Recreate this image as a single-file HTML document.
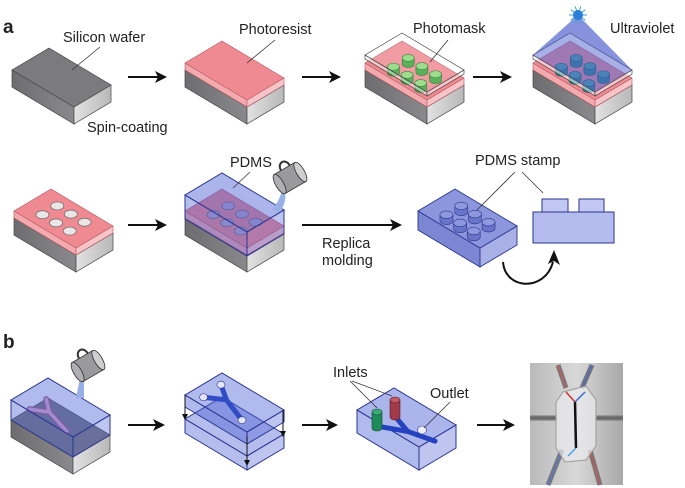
<!DOCTYPE html>
<html><head><meta charset="utf-8"><style>
html,body{margin:0;padding:0;background:#fff;}
svg{display:block;}
text{font-family:"Liberation Sans",Arial,sans-serif;fill:#222;}
</style></head><body>
<svg id="fig" width="685" height="488" viewBox="0 0 685 488" xmlns="http://www.w3.org/2000/svg">
<defs>
<linearGradient id="grayL" x1="0" y1="0" x2="1" y2="0"><stop offset="0" stop-color="#6d6d70"/><stop offset="1" stop-color="#8a8a8c"/></linearGradient>
<linearGradient id="grayR" x1="0" y1="0" x2="1" y2="0"><stop offset="0" stop-color="#e2e2e2"/><stop offset="1" stop-color="#b8b8b8"/></linearGradient>
<linearGradient id="photoBg" x1="0" y1="0" x2="1" y2="0"><stop offset="0" stop-color="#b9b9b9"/><stop offset="0.5" stop-color="#d8d8d8"/><stop offset="1" stop-color="#a8a8a8"/></linearGradient>
</defs>
<g id="root"></g>
</svg>
<script>
var NS='http://www.w3.org/2000/svg';
var root=document.getElementById('root');
var L=[-62,-37], R=[37,-22];
function el(tag,attrs,parent){var e=document.createElementNS(NS,tag);for(var k in attrs)e.setAttribute(k,attrs[k]);(parent||root).appendChild(e);return e;}
function pts(a){return a.map(function(p){return p[0].toFixed(1)+','+p[1].toFixed(1)}).join(' ');}
function grp(name){var g=el('g',{});


return g;}
function box(g,fx,fy,h,top,left,right,stroke,sw){
  var F=[fx,fy],Lp=[fx+L[0],fy+L[1]],Rp=[fx+R[0],fy+R[1]],B=[fx+L[0]+R[0],fy+L[1]+R[1]];
  el('polygon',{points:pts([F,Lp,[Lp[0],Lp[1]+h],[fx,fy+h]]),fill:left,stroke:stroke,'stroke-width':sw||0.8},g);
  el('polygon',{points:pts([F,Rp,[Rp[0],Rp[1]+h],[fx,fy+h]]),fill:right,stroke:stroke,'stroke-width':sw||0.8},g);
  el('polygon',{points:pts([F,Lp,B,Rp]),fill:top,stroke:stroke,'stroke-width':sw||0.8},g);
}
function onTop(fx,fy,u,v){return [fx+u*L[0]+v*R[0],fy+u*L[1]+v*R[1]];}
function cyl(g,c,rx,ry,h,side,topc,stroke){
  el('path',{d:'M'+(c[0]-rx)+','+c[1]+' L'+(c[0]-rx)+','+(c[1]+h)+' A'+rx+','+ry+' 0 0 0 '+(c[0]+rx)+','+(c[1]+h)+' L'+(c[0]+rx)+','+c[1]+' Z',fill:side,stroke:stroke,'stroke-width':0.6},g);
  el('ellipse',{cx:c[0],cy:c[1],rx:rx,ry:ry,fill:topc,stroke:stroke,'stroke-width':0.6},g);
}
function arrow(x1,y,x2,name){var g=grp(name);
  el('line',{x1:x1,y1:y,x2:x2-8,y2:y,stroke:'#111','stroke-width':2},g);
  el('polygon',{points:pts([[x2,y],[x2-12,y-6],[x2-9,y],[x2-12,y+6]]),fill:'#111'},g);}
function label(x,y,s,name,size,weight){var t=el('text',{x:x,y:y,'font-size':size||14.5,'font-weight':weight||'normal'});t.textContent=s;


return t;}
function leader(x1,y1,x2,y2,name){var l=el('line',{x1:x1,y1:y1,x2:x2,y2:y2,stroke:'#333','stroke-width':0.8});

}
function gray(g,fx,fy,h){box(g,fx,fy,h,'#7b7b7e','url(#grayL)','url(#grayR)','#444',0.7);}
function pink(g,fx,fy,h){box(g,fx,fy,h,'#ef8a92','#f3a9ae','#f7c4c8','#b85a62',0.6);}
var grid=[[0.28,0.3],[0.5,0.3],[0.72,0.3],[0.28,0.7],[0.5,0.7],[0.72,0.7]];
function cup(x,y,name){var g=grp(name);
  var gg=el('g',{transform:'translate('+x+','+y+') rotate(-30)'},g);
  el('rect',{x:-12,y:-11,width:24,height:22,fill:'#9a9a9c',stroke:'#333','stroke-width':0.8},gg);
  el('ellipse',{cx:12,cy:0,rx:4,ry:11,fill:'#cfcfd0',stroke:'#333','stroke-width':0.8},gg);
  el('ellipse',{cx:-12,cy:0,rx:4,ry:11,fill:'#b0b0b2',stroke:'#333','stroke-width':0.8},gg);
  el('path',{d:'M-4,-11 C-4,-20 6,-20 6,-11',fill:'none',stroke:'#333','stroke-width':2},gg);
  return g;}

// ---- Panel a, row 1 ----
label(3,33,'a','panel-a-label',19,'bold');
var b1=grp('silicon-wafer-box'); gray(b1,74,107,17);
label(63,42,'Silicon wafer','silicon-wafer-label'); leader(100,47,72,70,'silicon-wafer-leader');
label(87,132,'Spin-coating','spin-coating-label');
arrow(128,77,167,'arrow-1');
var b2=grp('photoresist-box'); gray(b2,247,107,17); pink(b2,247,100,7);
label(239,34,'Photoresist','photoresist-label'); leader(275,40,247,63,'photoresist-leader');
arrow(302,77,341,'arrow-2');
var b3=grp('photomask-box'); gray(b3,427,107,17); pink(b3,427,100,7);
grid.forEach(function(p){cyl(b3,onTop(427,100,p[0],p[1]),6,3.5,6,'#3da53d','#8ad87a','#1d6a1d');});
box(b3,427,92,4,'rgba(255,255,255,0.15)','rgba(255,255,255,0.5)','rgba(255,255,255,0.5)','#444',0.7);
label(413,33,'Photomask','photomask-label'); leader(448,40,430,62,'photomask-leader');
arrow(473,77,512,'arrow-3');
var b4=grp('ultraviolet-box'); gray(b4,595,107,17); pink(b4,595,100,7);
grid.forEach(function(p){cyl(b4,onTop(595,100,p[0],p[1]),6,3.5,6,'#1f7f86','#3aa0a0','#114a50');});
box(b4,595,92,4,'rgba(255,255,255,0.15)','rgba(255,255,255,0.5)','rgba(255,255,255,0.5)','#444',0.7);
var sun=[578,15], cL=onTop(595,92,1,0), cB=onTop(595,92,1,1), cR=onTop(595,92,0,1), cF=[595,92];
el('polygon',{points:pts([sun,cL,cF,cR]),fill:'rgba(60,80,200,0.45)',stroke:'none'},b4);
el('polygon',{points:pts([sun,cL,cB]),fill:'rgba(60,80,200,0.3)'},b4);
el('polygon',{points:pts([sun,cB,cR]),fill:'rgba(60,80,200,0.3)'},b4);
for(var i=0;i<10;i++){var a=i*Math.PI/5;el('line',{x1:sun[0],y1:sun[1],x2:sun[0]+Math.cos(a)*9,y2:sun[1]+Math.sin(a)*9,stroke:'#3aa0e0','stroke-width':1},b4);}
el('circle',{cx:sun[0],cy:sun[1],r:5,fill:'#2a7fd8'},b4);
label(610,33,'Ultraviolet','ultraviolet-label');

// ---- Panel a, row 2 ----
var b5=grp('patterned-master-box'); gray(b5,76,255,17); pink(b5,76,248,7);
grid.forEach(function(p){var c=onTop(76,248,p[0],p[1]);el('ellipse',{cx:c[0],cy:c[1],rx:6.5,ry:4,fill:'#ebe6e6',stroke:'#666','stroke-width':0.7},b5);});
arrow(128,225,167,'arrow-4');
var b6=grp('pdms-pour-box'); gray(b6,247,255,17); pink(b6,247,248,7);
grid.forEach(function(p){var c=onTop(247,248,p[0],p[1]);el('ellipse',{cx:c[0],cy:c[1],rx:6.5,ry:4,fill:'#b8a6c8',stroke:'#666','stroke-width':0.7},b6);});
box(b6,247,232,24,'rgba(70,90,210,0.45)','rgba(70,90,210,0.4)','rgba(70,90,210,0.35)','#2a3590',1);
cup(290,178,'pdms-cup-1');
el('path',{d:'M282,190 Q280,200 272,210 L280,212 Q288,200 284,190 Z',fill:'#98b0e8'},b6);
label(230,167,'PDMS','pdms-label'); leader(250,172,233,188,'pdms-leader');
arrow(302,225,402,'replica-molding-arrow');
label(322,248,'Replica','replica-label'); label(322,265,'molding','molding-label');
var b7=grp('pdms-stamp-box'); box(b7,480,248,19,'#8c96dc','#7c87d4','#a8b0e6','#2a3590',0.9);
grid.forEach(function(p){cyl(b7,onTop(480,248,p[0],p[1]),6.5,3.8,6,'#6874c8','#8e98dc','#2a3590');});
label(475,165,'PDMS stamp','pdms-stamp-label');
leader(515,172,477,210,'pdms-stamp-leader-1'); leader(522,172,543,193,'pdms-stamp-leader-2');
var sp=grp('pdms-stamp-profile');
el('rect',{x:533,y:212,width:81,height:31,fill:'#b4bcee',stroke:'#2a3590','stroke-width':1},sp);
el('rect',{x:542,y:199,width:26,height:13,fill:'#c2c8f2',stroke:'#2a3590','stroke-width':1},sp);
el('rect',{x:579,y:199,width:25,height:13,fill:'#c2c8f2',stroke:'#2a3590','stroke-width':1},sp);
var ca=grp('flip-arrow');
el('path',{d:'M503,262 C505,290 545,292 553,262',fill:'none',stroke:'#111','stroke-width':2},ca);
el('polygon',{points:pts([[554,250],[548,264],[554,261],[560,265]]),fill:'#111'},ca);

// ---- Panel b ----
label(3,348,'b','panel-b-label',19,'bold');
var c1=grp('channel-mold-box'); gray(c1,73,457,17);
var bp=[onTop(73,446,0.25,0.25),onTop(73,446,0.65,0.45),onTop(73,446,0.85,0.25),onTop(73,446,0.85,0.7)];
el('path',{d:'M'+pts([bp[0],bp[1],bp[2]]).split(' ').join(' L')+' M'+pts([bp[1],bp[3]]).split(' ').join(' L'),fill:'none',stroke:'#b05a7a','stroke-width':6,'stroke-linecap':'round'},c1);
el('path',{d:'M'+pts([bp[0],bp[1],bp[2]]).split(' ').join(' L')+' M'+pts([bp[1],bp[3]]).split(' ').join(' L'),fill:'none',stroke:'#e2b2d0','stroke-width':3.5,'stroke-linecap':'round'},c1);
box(c1,73,437,20,'rgba(70,90,210,0.42)','rgba(70,90,210,0.4)','rgba(70,90,210,0.35)','#2a3590',1);
cup(88,366,'pdms-cup-2');
el('path',{d:'M80,378 Q78,388 76,398 L84,398 Q84,388 84,378 Z',fill:'#98b0e8'},c1);
arrow(128,425,165,'arrow-b1');
var c2=grp('bonding-box');
box(c2,247,456,14,'rgba(70,90,210,0.4)','rgba(70,90,210,0.4)','rgba(70,90,210,0.35)','#2a3590',1);
var q=[onTop(247,432,0.2,0.2),onTop(247,432,0.6,0.45),onTop(247,432,0.82,0.2),onTop(247,432,0.85,0.72)];
el('path',{d:'M'+q[0]+' L'+q[1]+' L'+q[2]+' M'+q[1]+' L'+q[3],fill:'none',stroke:'#2442c0','stroke-width':5,'stroke-linecap':'round'},c2);
box(c2,247,432,12,'rgba(70,90,210,0.42)','rgba(70,90,210,0.42)','rgba(70,90,210,0.35)','#2a3590',1);
[q[0],q[2],q[3]].forEach(function(c){el('ellipse',{cx:c[0],cy:c[1],rx:4,ry:3.5,fill:'#e6e6f4',stroke:'#2a3590','stroke-width':0.6},c2);});
[[185,395,420],[283,410,437],[247,436,466]].forEach(function(a){el('line',{x1:a[0],y1:a[1],x2:a[0],y2:a[2]-4,stroke:'#111','stroke-width':1},c2);el('polygon',{points:pts([[a[0],a[2]],[a[0]-3,a[2]-6],[a[0]+3,a[2]-6]]),fill:'#111'},c2);});
arrow(302,425,338,'arrow-b2');
var c3=grp('device-box');
box(c3,419,447,23,'rgba(70,90,210,0.45)','rgba(70,90,210,0.42)','rgba(70,90,210,0.35)','#2a3590',1);
var r=[onTop(419,458,0.72,0.2),onTop(419,458,0.45,0.45),onTop(419,458,0.72,0.6),onTop(419,458,0.1,0.6)];
el('path',{d:'M'+r[0]+' L'+r[1]+' L'+r[2]+' M'+r[1]+' L'+r[3],fill:'none',stroke:'#2442c0','stroke-width':5,'stroke-linecap':'round'},c3);
cyl(c3,[377,412],5,3,16,'#1f8a5a','#3aaa7a','#0f4a30');
cyl(c3,[395,400],5,3,17,'#a03a4a','#c05868','#5a1a22');
el('ellipse',{cx:422,cy:430,rx:4.5,ry:4,fill:'#eeeef6',stroke:'#2a3590','stroke-width':0.6},c3);
label(333,377,'Inlets','inlets-label'); leader(350,381,377,408,'inlets-leader-1'); leader(352,381,392,396,'inlets-leader-2');
label(430,398,'Outlet','outlet-label'); leader(450,402,424,428,'outlet-leader');
arrow(477,425,515,'arrow-b3');
var ph=grp('device-photo');
el('rect',{x:530,y:363,width:93,height:122,fill:'url(#photoBg)'},ph);
[[558,365,566,388,'#c06060'],[592,365,582,388,'#4a6ac8'],[530,418,556,418,'#666'],[623,418,596,418,'#666'],[548,485,562,450,'#5a7ac8'],[600,485,590,450,'#c05a5a']].forEach(function(t){el('line',{x1:t[0],y1:t[1],x2:t[2],y2:t[3],stroke:'#777','stroke-width':5},ph);el('line',{x1:t[0],y1:t[1],x2:t[2],y2:t[3],stroke:t[4],'stroke-width':1.5},ph);});
el('polygon',{points:'563,392 586,386 596,400 596,446 586,460 565,462 556,448 556,402',fill:'rgba(235,235,240,0.7)',stroke:'#999','stroke-width':1},ph);
el('line',{x1:575,y1:402,x2:576,y2:448,stroke:'#111','stroke-width':2.5},ph);
el('line',{x1:566,y1:392,x2:575,y2:402,stroke:'#d03030','stroke-width':1.5},ph);
el('line',{x1:585,y1:392,x2:575,y2:402,stroke:'#3a6ad0','stroke-width':1.5},ph);
el('line',{x1:576,y1:448,x2:568,y2:456,stroke:'#4aa0e0','stroke-width':1.5},ph);
</script>
</body></html>
